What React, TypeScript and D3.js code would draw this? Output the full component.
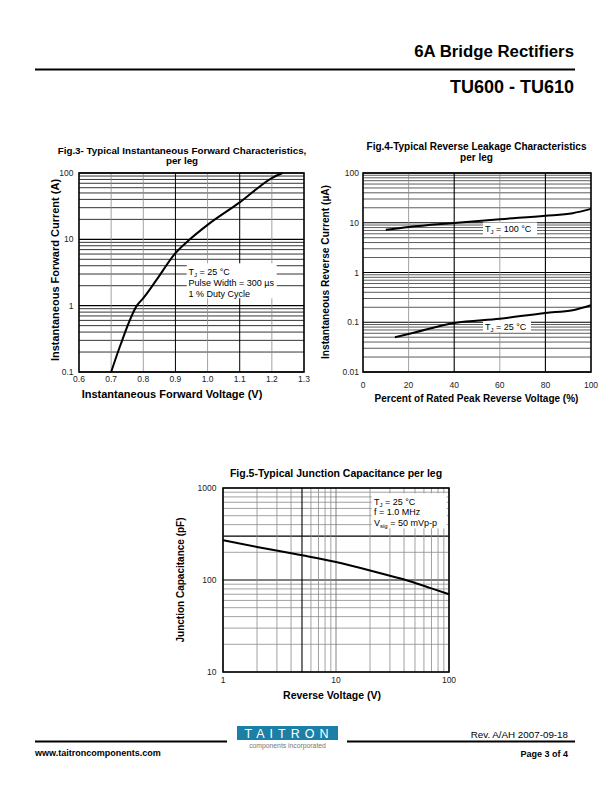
import * as d3 from 'd3';

// Fig.3 forward characteristics
const fig3Voltage = [0.7, 0.727, 0.78, 0.8, 0.84, 0.9, 0.945, 1.0, 1.1, 1.2, 1.233];
const fig3Current = [0.1, 0.24, 1.0, 1.3, 2.4, 6.2, 10, 16.5, 36, 84, 100];
const fig3XTicks = [0.6, 0.7, 0.8, 0.9, 1.0, 1.1, 1.2, 1.3];
const fig3YTicks = [0.1, 1, 10, 100];

// Fig.4 reverse leakage
const fig4Pct100 = [10, 20, 40, 60, 80, 92, 100];
const fig4Cur100 = [7.2, 8.2, 9.9, 11.8, 13.8, 15.6, 19];
const fig4Pct25 = [14, 20, 40, 60, 80, 92, 100];
const fig4Cur25 = [0.05, 0.058, 0.097, 0.118, 0.154, 0.175, 0.22];
const fig4XTicks = [0, 20, 40, 60, 80, 100];
const fig4YTicks = [0.01, 0.1, 1, 10, 100];

// Fig.5 junction capacitance
const fig5Voltage = [1, 2, 5, 10, 20, 30, 45, 70, 100];
const fig5Cap = [271, 229, 186, 157, 127, 111, 97, 81, 70];
const fig5XTicks = [1, 10, 100];
const fig5YTicks = [10, 100, 1000];

const FONT = 'Liberation Sans, Arial, Helvetica, sans-serif';

type Pt = [number, number];

function zip(a: number[], b: number[]): Pt[] {
  return a.map((v, i) => [v, b[i]] as Pt);
}

function Sub({ main, sub, rest }: { main: string; sub: string; rest: string }) {
  return (
    <>
      <tspan>{main}</tspan>
      <tspan fontSize={6} dy={2}>{sub}</tspan>
      <tspan dy={-2}>{rest}</tspan>
    </>
  );
}

function Fig3() {
  const x = d3.scaleLinear().domain([0.6, 1.3]).range([79, 304]);
  const y = d3.scaleLog().domain([0.1, 100]).range([372, 173]);
  const line = d3.line<Pt>().x((d) => x(d[0])).y((d) => y(d[1])).curve(d3.curveMonotoneX);
  const fmt = d3.format('.1f');
  const darkX = [0.9, 1.1];
  return (
    <g fontFamily={FONT}>
      {y.ticks().map((t, i) => {
        const major = fig3YTicks.includes(t);
        return <line key={'h' + i} x1={x(0.6)} x2={x(1.3)} y1={y(t)} y2={y(t)} stroke="#000" strokeWidth={major ? 1.1 : 0.8} />;
      })}
      {fig3XTicks.slice(1, -1).map((t) => {
        const dark = darkX.some((d) => Math.abs(d - t) < 1e-6);
        return <line key={'v' + t} x1={x(t)} x2={x(t)} y1={y(0.1)} y2={y(100)} stroke={dark ? '#000' : '#8a8a8a'} strokeWidth={dark ? 1 : 0.8} />;
      })}
      <rect x={186.7} y={263.3} width={90} height={35} fill="#fff" />
      <text fontSize={9} x={188.5} y={274.5}><Sub main="T" sub="J" rest=" = 25 °C" /></text>
      <text fontSize={9} x={188.5} y={285.5}>Pulse Width = 300 µs</text>
      <text fontSize={9} x={188.5} y={297}>1 % Duty Cycle</text>
      <path d={line(zip(fig3Voltage, fig3Current)) ?? ''} fill="none" stroke="#000" strokeWidth={2} />
      <rect x={79} y={173} width={225} height={199} fill="none" stroke="#000" strokeWidth={1.6} />
      {fig3XTicks.map((t) => (
        <text key={'xt' + t} x={x(t)} y={381.5} fontSize={8.5} textAnchor="middle" fill="#222">{fmt(t)}</text>
      ))}
      {fig3YTicks.map((t) => (
        <text key={'yt' + t} x={73.5} y={y(t) + 3} fontSize={8.5} textAnchor="end" fill="#222">{t}</text>
      ))}
      <text x={182} y={153.5} fontSize={9.8} fontWeight="bold" textAnchor="middle">Fig.3- Typical Instantaneous Forward Characteristics,</text>
      <text x={182} y={163.5} fontSize={9.8} fontWeight="bold" textAnchor="middle">per leg</text>
      <text x={172} y={398} fontSize={11} fontWeight="bold" textAnchor="middle">Instantaneous Forward Voltage (V)</text>
      <text transform="translate(59,270) rotate(-90)" fontSize={11} fontWeight="bold" textAnchor="middle">Instantaneous Forward Current (A)</text>
    </g>
  );
}

function Fig4() {
  const x = d3.scaleLinear().domain([0, 100]).range([363, 591]);
  const y = d3.scaleLog().domain([0.01, 100]).range([372, 173]);
  const line = d3.line<Pt>().x((d) => x(d[0])).y((d) => y(d[1])).curve(d3.curveMonotoneX);
  return (
    <g fontFamily={FONT}>
      {y.ticks().map((t, i) => {
        const major = fig4YTicks.includes(t);
        return <line key={'h' + i} x1={x(0)} x2={x(100)} y1={y(t)} y2={y(t)} stroke={major ? '#000' : '#333'} strokeWidth={major ? 1.2 : 0.8} />;
      })}
      {fig4XTicks.slice(1, -1).map((t) => {
        const dark = t === 40 || t === 80;
        return <line key={'v' + t} x1={x(t)} x2={x(t)} y1={y(0.01)} y2={y(100)} stroke={dark ? '#000' : '#8a8a8a'} strokeWidth={dark ? 1.1 : 0.8} />;
      })}
      <rect x={483} y={222.5} width={54} height={12.5} fill="#fff" />
      <text fontSize={9} x={485} y={232}><Sub main="T" sub="J" rest=" = 100 °C" /></text>
      <rect x={483} y={320.5} width={48} height={11.5} fill="#fff" />
      <text fontSize={9} x={485} y={329.5}><Sub main="T" sub="J" rest=" = 25 °C" /></text>
      <path d={line(zip(fig4Pct100, fig4Cur100)) ?? ''} fill="none" stroke="#000" strokeWidth={2} />
      <path d={line(zip(fig4Pct25, fig4Cur25)) ?? ''} fill="none" stroke="#000" strokeWidth={2} />
      <rect x={363} y={173} width={228} height={199} fill="none" stroke="#000" strokeWidth={1.6} />
      {fig4XTicks.map((t) => (
        <text key={'xt' + t} x={x(t)} y={388} fontSize={8.5} textAnchor="middle" fill="#222">{t}</text>
      ))}
      {fig4YTicks.map((t) => (
        <text key={'yt' + t} x={359} y={y(t) + 3} fontSize={8.5} textAnchor="end" fill="#222">{t}</text>
      ))}
      <text x={476.5} y={149.5} fontSize={10} fontWeight="bold" textAnchor="middle">Fig.4-Typical Reverse Leakage Characteristics</text>
      <text x={476.5} y={161} fontSize={10} fontWeight="bold" textAnchor="middle">per leg</text>
      <text x={476.5} y={402} fontSize={10} fontWeight="bold" textAnchor="middle">Percent of Rated Peak Reverse Voltage (%)</text>
      <text transform="translate(328.5,272) rotate(-90)" fontSize={10.2} fontWeight="bold" textAnchor="middle">Instantaneous Reverse Current (µA)</text>
    </g>
  );
}

function Fig5() {
  const x = d3.scaleLog().domain([1, 100]).range([223, 449]);
  const y = d3.scaleLog().domain([10, 1000]).range([672, 488]);
  const line = d3.line<Pt>().x((d) => x(d[0])).y((d) => y(d[1])).curve(d3.curveMonotoneX);
  const darkY = [100, 300];
  return (
    <g fontFamily={FONT}>
      {y.ticks().map((t, i) => {
        const dark = darkY.includes(t);
        return <line key={'h' + i} x1={x(1)} x2={x(100)} y1={y(t)} y2={y(t)} stroke={dark ? '#000' : '#8a8a8a'} strokeWidth={dark ? 1.1 : 0.8} />;
      })}
      {x.ticks().map((t, i) => {
        const dark = t === 5;
        return <line key={'v' + i} x1={x(t)} x2={x(t)} y1={y(10)} y2={y(1000)} stroke={dark ? '#000' : t === 10 ? '#666' : '#8a8a8a'} strokeWidth={dark ? 1.1 : 0.8} />;
      })}
      <rect x={371.7} y={493.3} width={75} height={35} fill="#fff" />
      <text fontSize={9} x={374} y={504.5}><Sub main="T" sub="J" rest=" = 25 °C" /></text>
      <text fontSize={9} x={374} y={515}>f = 1.0 MHz</text>
      <text fontSize={9} x={374} y={525.5}><Sub main="V" sub="sig" rest=" = 50 mVp-p" /></text>
      <path d={line(zip(fig5Voltage, fig5Cap)) ?? ''} fill="none" stroke="#000" strokeWidth={2} />
      <rect x={223} y={488} width={226} height={184} fill="none" stroke="#000" strokeWidth={1.6} />
      {fig5XTicks.map((t) => (
        <text key={'xt' + t} x={x(t)} y={683} fontSize={8.5} textAnchor="middle" fill="#222">{t}</text>
      ))}
      {fig5YTicks.map((t) => (
        <text key={'yt' + t} x={216.5} y={y(t) + 3} fontSize={8.5} textAnchor="end" fill="#222">{t}</text>
      ))}
      <text x={336} y={476.5} fontSize={10.5} fontWeight="bold" textAnchor="middle">Fig.5-Typical Junction Capacitance per leg</text>
      <text x={332} y={699} fontSize={10.5} fontWeight="bold" textAnchor="middle">Reverse Voltage (V)</text>
      <text transform="translate(183.5,580) rotate(-90)" fontSize={10} fontWeight="bold" textAnchor="middle">Junction Capacitance (pF)</text>
    </g>
  );
}

export default function App() {
  return (
    <svg width={612} height={792} style={{ position: 'absolute', left: 0, top: 0, background: '#fff' }}>
      <rect width={612} height={792} fill="#fff" />
      <g fontFamily={FONT}>
        <text x={574} y={57} fontSize={16.8} fontWeight="bold" textAnchor="end">6A Bridge Rectifiers</text>
        <line x1={35} x2={575} y1={69.5} y2={69.5} stroke="#000" strokeWidth={2} />
        <text x={574} y={93} fontSize={18} fontWeight="bold" textAnchor="end">TU600 - TU610</text>
      </g>
      <Fig3 />
      <Fig4 />
      <Fig5 />
      <g fontFamily={FONT}>
        <line x1={35} x2={227} y1={741.5} y2={741.5} stroke="#000" strokeWidth={2} />
        <line x1={347} x2={575} y1={741.5} y2={741.5} stroke="#000" strokeWidth={2} />
        <rect x={237} y={726} width={101} height={14} fill="#1b7fa6" />
        <text x={289} y={737.8} fontSize={12.5} fill="#fff" textAnchor="middle" letterSpacing={5}>TAITRON</text>
        <text x={287.5} y={747.5} fontSize={6.8} fill="#777" textAnchor="middle">components incorporated</text>
        <text x={568} y={738} fontSize={9.8} textAnchor="end">Rev. A/AH 2007-09-18</text>
        <text x={568} y={757} fontSize={9} fontWeight="bold" textAnchor="end">Page 3 of 4</text>
        <text x={35} y={756} fontSize={9} fontWeight="bold">www.taitroncomponents.com</text>
      </g>
    </svg>
  );
}
